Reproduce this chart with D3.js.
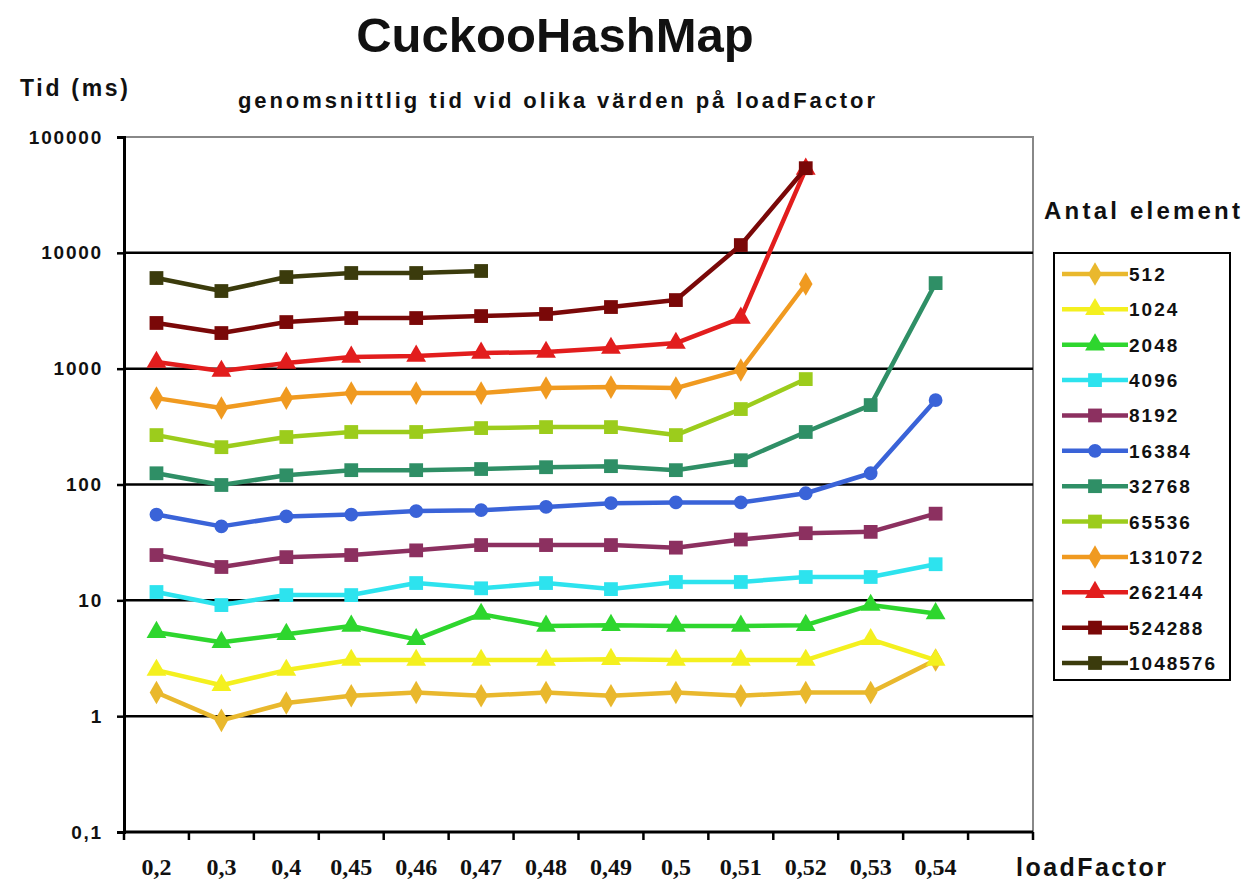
<!DOCTYPE html>
<meta charset="utf-8">
<style>
body { margin: 0; background: #fff; }
text { font-family: "Liberation Sans", Arial, sans-serif; font-weight: bold; fill: #111; }
.xlab { font-family: "Liberation Serif", "Times New Roman", serif; }
</style>
<svg width="1247" height="882"></svg>
<script src="https://cdn.jsdelivr.net/npm/d3@7"></script>
<script>

var loadFactors = ["0,2", "0,3", "0,4", "0,45", "0,46", "0,47", "0,48", "0,49", "0,5", "0,51", "0,52", "0,53", "0,54"];
var yTicks = [0.1, 1, 10, 100, 1000, 10000, 100000];
var yTickLabels = ["0,1", "1", "10", "100", "1000", "10000", "100000"];

var names = ["512", "1024", "2048", "4096", "8192", "16384", "32768", "65536", "131072", "262144", "524288", "1048576"];
var colors = ["#e9b82d", "#f4f01f", "#2ed62e", "#2de3ee", "#8c3060", "#3a63d8", "#2f8f66", "#9ccc1c", "#f09a20", "#e21d1d", "#7a0808", "#3b3b0c"];
var shapes = ["diamond", "triangle", "triangle", "square", "square", "circle", "square", "square", "diamond", "triangle", "square", "square"];

var s512     = [1.6, 0.92, 1.3, 1.5, 1.6, 1.5, 1.6, 1.5, 1.6, 1.5, 1.6, 1.6, 3.05];
var s1024    = [2.5, 1.85, 2.5, 3.05, 3.05, 3.05, 3.05, 3.1, 3.05, 3.05, 3.05, 4.6, 3.05];
var s2048    = [5.3, 4.35, 5.1, 6.0, 4.6, 7.6, 6.0, 6.1, 6.0, 6.0, 6.1, 9.1, 7.7];
var s4096    = [11.8, 9.1, 11.1, 11.1, 14.1, 12.7, 14.1, 12.5, 14.4, 14.4, 15.9, 15.9, 20.5];
var s8192    = [24.6, 19.4, 23.6, 24.6, 27, 30, 30, 30, 28.5, 33.5, 38, 39, 56];
var s16384   = [55, 43.5, 53, 55, 59, 60, 64, 69, 70, 70, 84, 125, 535];
var s32768   = [125, 99, 120, 133, 133, 136, 141, 144, 133, 162, 284, 485, 5480];
var s65536   = [267, 210, 257, 284, 284, 307, 313, 313, 267, 448, 813];
var s131072  = [557, 457, 557, 615, 615, 615, 680, 693, 680, 973, 5380];
var s262144  = [1140, 953, 1120, 1260, 1285, 1365, 1390, 1505, 1663, 2735, 52900];
var s524288  = [2480, 2030, 2525, 2735, 2735, 2845, 2965, 3405, 3910, 11670, 53800];
var s1048576 = [6060, 4680, 6180, 6695, 6695, 6970];

var seriesValues = [s512, s1024, s2048, s4096, s8192, s16384, s32768, s65536, s131072, s262144, s524288, s1048576];

var svg = d3.select("svg");

var plotLeft = 124, plotRight = 1033, plotTop = 137, plotBottom = 832;
var step = (plotRight - plotLeft) / (loadFactors.length + 1);

var x = d3.scaleBand()
    .domain(loadFactors)
    .range([plotLeft, plotLeft + step * loadFactors.length]);

var y = d3.scaleLog()
    .domain([0.1, 100000])
    .range([plotBottom, plotTop]);

// plot frame (grey top + right)
svg.append("path")
    .attr("d", "M" + plotLeft + "," + plotTop + "H" + plotRight + "V" + plotBottom)
    .attr("fill", "none")
    .attr("stroke", "#888")
    .attr("stroke-width", 2);

// gridlines
svg.append("g").selectAll("line")
    .data(yTicks.filter(function(d) { return d > 0.1 && d < 100000; }))
  .enter().append("line")
    .attr("x1", plotLeft).attr("x2", plotRight)
    .attr("y1", function(d) { return y(d); })
    .attr("y2", function(d) { return y(d); })
    .attr("stroke", "#000")
    .attr("stroke-width", 2.5);

// y axis
var yAxis = svg.append("g")
    .attr("transform", "translate(" + plotLeft + ",0)")
    .call(d3.axisLeft(y).tickValues(yTicks)
      .tickFormat(function(d, i) { return yTickLabels[i]; })
      .tickSize(7).tickPadding(14));
yAxis.select(".domain").attr("stroke", "#000").attr("stroke-width", 3);
yAxis.selectAll(".tick line").attr("stroke", "#000").attr("stroke-width", 2.5);
yAxis.selectAll(".tick text")
    .attr("fill", "#111")
    .style("font-family", "'Liberation Sans', Arial, sans-serif")
    .style("font-weight", "bold")
    .style("font-size", "19px")
    .style("letter-spacing", "1.8px");

// x axis with ticks at band edges
var xAxisG = svg.append("g");
xAxisG.append("line")
    .attr("x1", plotLeft).attr("x2", plotRight)
    .attr("y1", plotBottom).attr("y2", plotBottom)
    .attr("stroke", "#000").attr("stroke-width", 3);
xAxisG.selectAll(".xt")
    .data(d3.range(loadFactors.length + 2))
  .enter().append("line")
    .attr("class", "xt")
    .attr("x1", function(i) { return plotLeft + i * step; })
    .attr("x2", function(i) { return plotLeft + i * step; })
    .attr("y1", plotBottom).attr("y2", plotBottom + 8)
    .attr("stroke", "#000").attr("stroke-width", 2.5);
xAxisG.selectAll(".xlab")
    .data(loadFactors)
  .enter().append("text")
    .attr("class", "xlab")
    .attr("x", function(d) { return x(d) + x.bandwidth() / 2; })
    .attr("y", 875)
    .attr("text-anchor", "middle")
    .style("font-size", "24px")
    .text(function(d) { return d; });

// symbols
function symbolType(s) {
  if (s === "diamond") return d3.symbolDiamond;
  if (s === "triangle") return d3.symbolTriangle;
  if (s === "circle") return d3.symbolCircle;
  return d3.symbolSquare;
}
function symbolSize(s) {
  if (s === "diamond") return 160;
  if (s === "triangle") return 170;
  if (s === "circle") return 150;
  return 190;
}

var line = d3.line()
    .x(function(d, i) { return x(loadFactors[i]) + x.bandwidth() / 2; })
    .y(function(d) { return y(d); });

var series = svg.append("g").selectAll("g")
    .data(seriesValues)
  .enter().append("g");

series.append("path")
    .attr("d", function(d) { return line(d); })
    .attr("fill", "none")
    .attr("stroke", function(d, i) { return colors[i]; })
    .attr("stroke-width", 4.5)
    .attr("stroke-linejoin", "round");

series.each(function(vals, si) {
  d3.select(this).selectAll("path.pt")
      .data(vals)
    .enter().append("path")
      .attr("class", "pt")
      .attr("transform", function(d, i) {
        return "translate(" + (x(loadFactors[i]) + x.bandwidth() / 2) + "," + y(d) + ")";
      })
      .attr("d", d3.symbol().type(symbolType(shapes[si])).size(symbolSize(shapes[si])))
      .attr("fill", colors[si]);
});

// titles
svg.append("text")
    .attr("x", 555).attr("y", 52)
    .attr("text-anchor", "middle")
    .style("font-size", "49px")
    .text("CuckooHashMap");

svg.append("text")
    .attr("x", 238).attr("y", 108)
    .attr("textLength", 637).attr("lengthAdjust", "spacing")
    .style("font-size", "22px")
    .text("genomsnittlig tid vid olika värden på loadFactor");

svg.append("text")
    .attr("x", 20).attr("y", 96)
    .attr("textLength", 108).attr("lengthAdjust", "spacing")
    .style("font-size", "23px")
    .text("Tid (ms)");

svg.append("text")
    .attr("x", 1016).attr("y", 876)
    .attr("textLength", 150).attr("lengthAdjust", "spacing")
    .style("font-size", "25px")
    .text("loadFactor");

svg.append("text")
    .attr("x", 1044).attr("y", 219)
    .attr("textLength", 196).attr("lengthAdjust", "spacing")
    .style("font-size", "24px")
    .text("Antal element");

// legend
var legend = svg.append("g");
legend.append("rect")
    .attr("x", 1054).attr("y", 253)
    .attr("width", 176).attr("height", 427)
    .attr("fill", "#fff")
    .attr("stroke", "#000").attr("stroke-width", 2);

var rowY = d3.scalePoint().domain(names).range([274, 663]);

var item = legend.selectAll(".item")
    .data(names)
  .enter().append("g")
    .attr("class", "item")
    .attr("transform", function(d) { return "translate(0," + rowY(d) + ")"; });

item.append("line")
    .attr("x1", 1062).attr("x2", 1128)
    .attr("stroke", function(d, i) { return colors[i]; })
    .attr("stroke-width", 4.5);

item.append("path")
    .attr("transform", "translate(1095,0)")
    .attr("d", function(d, i) { return d3.symbol().type(symbolType(shapes[i])).size(symbolSize(shapes[i]))(); })
    .attr("fill", function(d, i) { return colors[i]; });

item.append("text")
    .attr("x", 1129).attr("y", 7)
    .style("font-size", "19px")
    .style("letter-spacing", "2px")
    .text(function(d) { return d; });

</script>
